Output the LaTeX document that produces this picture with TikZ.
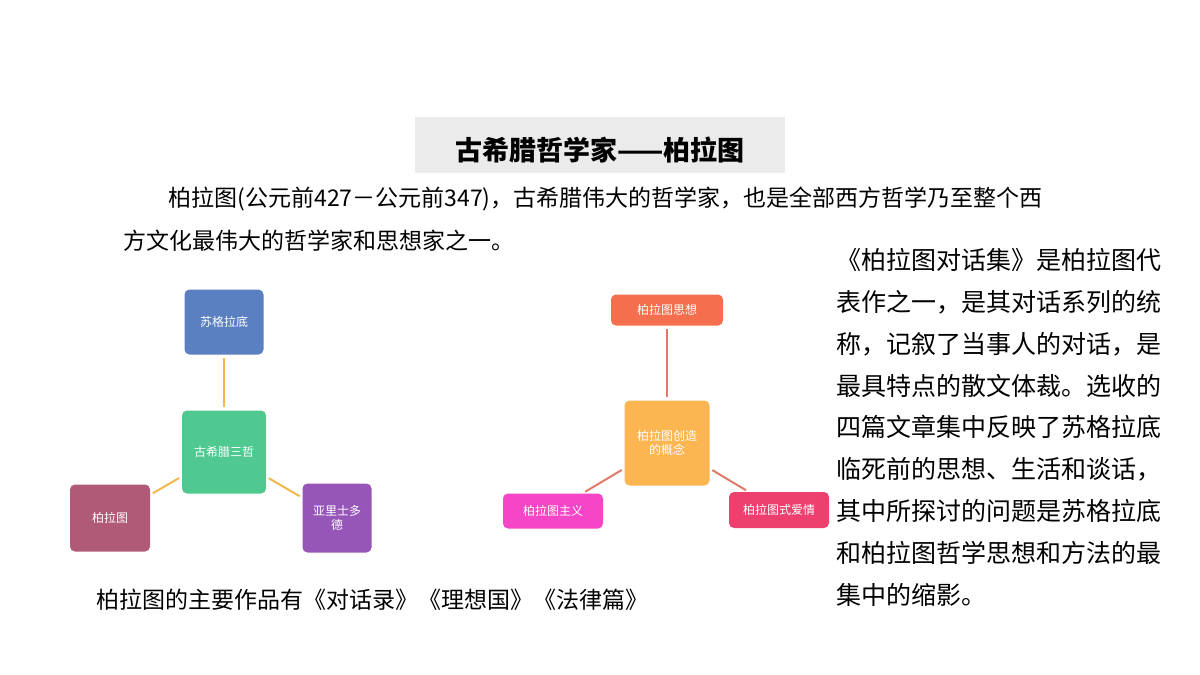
\documentclass[tikz,border=0pt]{standalone}
\usepackage{fontspec}
\setmainfont{Noto Sans CJK SC}
\definecolor{cBlue}{HTML}{5B80C2}
\definecolor{cGreen}{HTML}{4FC990}
\definecolor{cRose}{HTML}{B05A78}
\definecolor{cPurple}{HTML}{9656B8}
\definecolor{cOrange}{HTML}{F0B84A}
\definecolor{cRed}{HTML}{F56E4E}
\definecolor{cGold}{HTML}{FBB652}
\definecolor{cPink}{HTML}{F446C6}
\definecolor{cCrimson}{HTML}{EE406E}
\definecolor{cLink}{HTML}{E07A6A}
\tikzset{
    box/.style={
           rectangle,
           rounded corners=5pt,
           text=white,
           inner sep=1pt,
           align=center,
           font=\fontsize{12}{14}\selectfont,
           },
    para/.style={anchor=west, font=\fontsize{23}{26}\selectfont},
    link/.style={line width=2pt, shorten <=3pt, shorten >=3pt},
}

\begin{document}
\begin{tikzpicture}[x=1pt,y=-1pt]
    \useasboundingbox (0,0) rectangle (1200,675);

    % title and text
    \fill[black!8] (415,117) rectangle (785,173);
    \node[font=\fontsize{27}{30}\selectfont\bfseries] (title) at (600,150) {古希腊哲学家——柏拉图};
    \node[para] (p1) at (165,199) {柏拉图(公元前427－公元前347)，古希腊伟大的哲学家，也是全部西方哲学乃至整个西};
    \node[para] (p2) at (120,241) {方文化最伟大的哲学家和思想家之一。};
    \node[para] (works) at (93,600) {柏拉图的主要作品有《对话录》《理想国》《法律篇》};
    \node[anchor=north west, align=left, inner sep=0pt,
          font=\fontsize{25}{41.9}\selectfont] (side) at (836,248)
          {《柏拉图对话集》是柏拉图代\\表作之一，是其对话系列的统\\称，记叙了当事人的对话，是\\最具特点的散文体裁。选收的\\四篇文章集中反映了苏格拉底\\临死前的思想、生活和谈话，\\其中所探讨的问题是苏格拉底\\和柏拉图哲学思想和方法的最\\集中的缩影。};

    % left cluster
    \node[box, fill=cBlue,   minimum width=79pt, minimum height=65pt] (socrates) at (224,322) {苏格拉底};
    \node[box, fill=cGreen,  minimum width=84pt, minimum height=83pt] (three) at (224,452) {古希腊三哲};
    \node[box, fill=cRose,   minimum width=80pt, minimum height=67pt] (plato) at (110,518) {柏拉图};
    \node[box, fill=cPurple, minimum width=69pt, minimum height=69pt] (aristotle) at (337,518) {亚里士多\\德};
    \draw[cOrange, link] (three) -- (socrates);
    \draw[cOrange, link] (three) -- (plato);
    \draw[cOrange, link] (three) -- (aristotle);

    % right cluster
    \node[box, fill=cRed,     minimum width=112pt, minimum height=31pt] (thought) at (667,310) {柏拉图思想};
    \node[box, fill=cGold,    minimum width=85pt, minimum height=85pt] (concept) at (667,443) {柏拉图创造\\的概念};
    \node[box, fill=cPink,    minimum width=100pt, minimum height=35pt] (platonism) at (553,511) {柏拉图主义};
    \node[box, fill=cCrimson, minimum width=100pt, minimum height=36pt] (love) at (779,510) {柏拉图式爱情};
    \draw[cLink, link] (concept) -- (thought);
    \draw[cLink, link] (concept) -- (platonism);
    \draw[cLink, link] (concept) -- (love);
\end{tikzpicture}
\end{document}
